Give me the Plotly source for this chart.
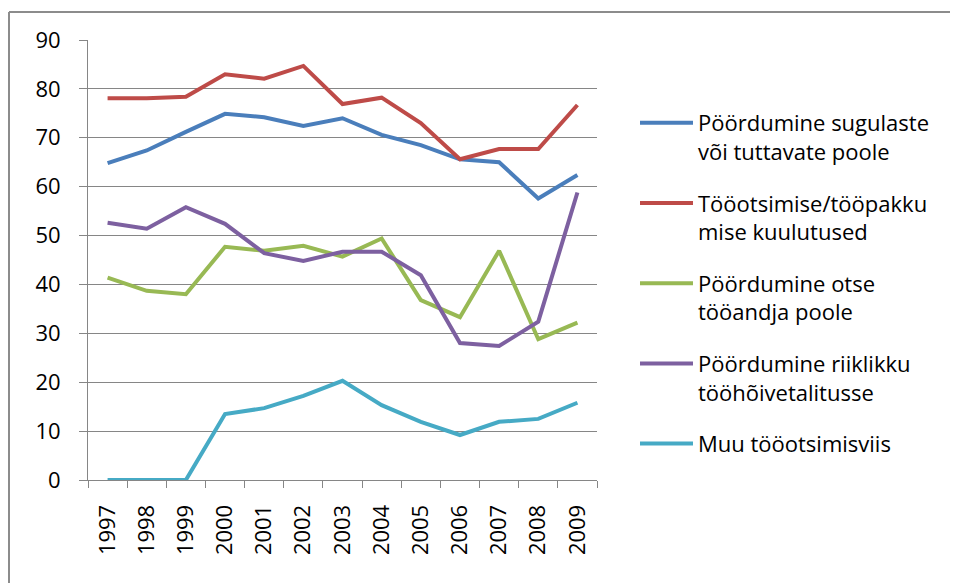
import plotly.graph_objects as go

years = ["1997", "1998", "1999", "2000", "2001", "2002", "2003",
         "2004", "2005", "2006", "2007", "2008", "2009"]

sugulased = [64.8, 67.4, 71.2, 74.9, 74.2, 72.4, 74.0, 70.6, 68.5, 65.6, 65.0, 57.6, 62.4]
kuulutused = [78.1, 78.1, 78.4, 83.0, 82.1, 84.7, 76.9, 78.2, 73.0, 65.6, 67.7, 67.7, 76.7]
tooandja = [41.4, 38.7, 38.0, 47.7, 46.9, 47.9, 45.7, 49.4, 36.8, 33.3, 46.9, 28.8, 32.2]
riiklik = [52.6, 51.4, 55.8, 52.4, 46.4, 44.8, 46.7, 46.7, 41.9, 28.0, 27.4, 32.4, 58.8]
muu = [0, 0, 0, 13.5, 14.7, 17.2, 20.3, 15.3, 11.9, 9.2, 11.9, 12.5, 15.8]

names = [
    "Pöördumine sugulaste<br>või tuttavate poole",
    "Tööotsimise/tööpakku<br>mise kuulutused",
    "Pöördumine otse<br>tööandja poole",
    "Pöördumine riiklikku<br>tööhõivetalitusse",
    "Muu tööotsimisviis",
]
series = [sugulased, kuulutused, tooandja, riiklik, muu]
colors = ["#4A7EBB", "#BE4B48", "#98B954", "#7D60A0", "#46AAC5"]

FONT = "Open Sans"
FS = 22

# page is offset by the 8px body margin
OFF = 8
FW, FH = 958 - OFF, 583 - OFF
L, T = 88 - OFF, 40 - OFF
W, H = 509, 440


def px(xp):
    return (xp - OFF - L) / W


def py(yp):
    return (T + H - (yp - OFF)) / H


fig = go.Figure()
for i, (nm, vals, c) in enumerate(zip(names, series, colors)):
    fig.add_trace(go.Scatter(
        x=years, y=vals, name=nm, mode="lines",
        line=dict(color=c, width=4),
        legendgroup=f"g{i}",
    ))

fig.update_layout(
    width=FW, height=FH,
    margin=dict(l=L, r=FW - L - W, t=T, b=FH - T - H, pad=0),
    paper_bgcolor="white", plot_bgcolor="white",
    font=dict(family=FONT, size=FS, color="#000000"),
    showlegend=True,
    legend=dict(
        x=px(635), xanchor="left",
        y=py(102), yanchor="top",
        font=dict(family=FONT, size=FS, color="#000000"),
        tracegroupgap=20, itemwidth=53, valign="top",
        bgcolor="rgba(0,0,0,0)",
    ),
    xaxis=dict(
        type="category", range=[-0.5, 12.5],
        showline=True, linecolor="#868686", linewidth=1,
        ticks="outside", ticklen=7, tickcolor="#868686", tickson="boundaries",
        tickangle=-90, showgrid=False, ticklabelstandoff=15,
        tickfont=dict(family=FONT, size=FS, color="#000000"),
    ),
    yaxis=dict(
        range=[0, 90], dtick=10, tick0=0,
        showline=True, linecolor="#868686", linewidth=1,
        ticks="outside", ticklen=8, tickcolor="#868686",
        showgrid=True, gridcolor="#868686", gridwidth=1,
        zeroline=False, ticklabelstandoff=14,
        tickfont=dict(family=FONT, size=FS, color="#000000"),
    ),
    shapes=[
        dict(type="line", xref="paper", yref="paper",
             x0=px(9), x1=px(9), y0=py(12), y1=py(640),
             line=dict(color="#8C8C8C", width=2)),
        dict(type="line", xref="paper", yref="paper",
             x0=px(9), x1=px(1100), y0=py(12), y1=py(12),
             line=dict(color="#8C8C8C", width=2)),
    ],
)

fig.write_html("out.html")
